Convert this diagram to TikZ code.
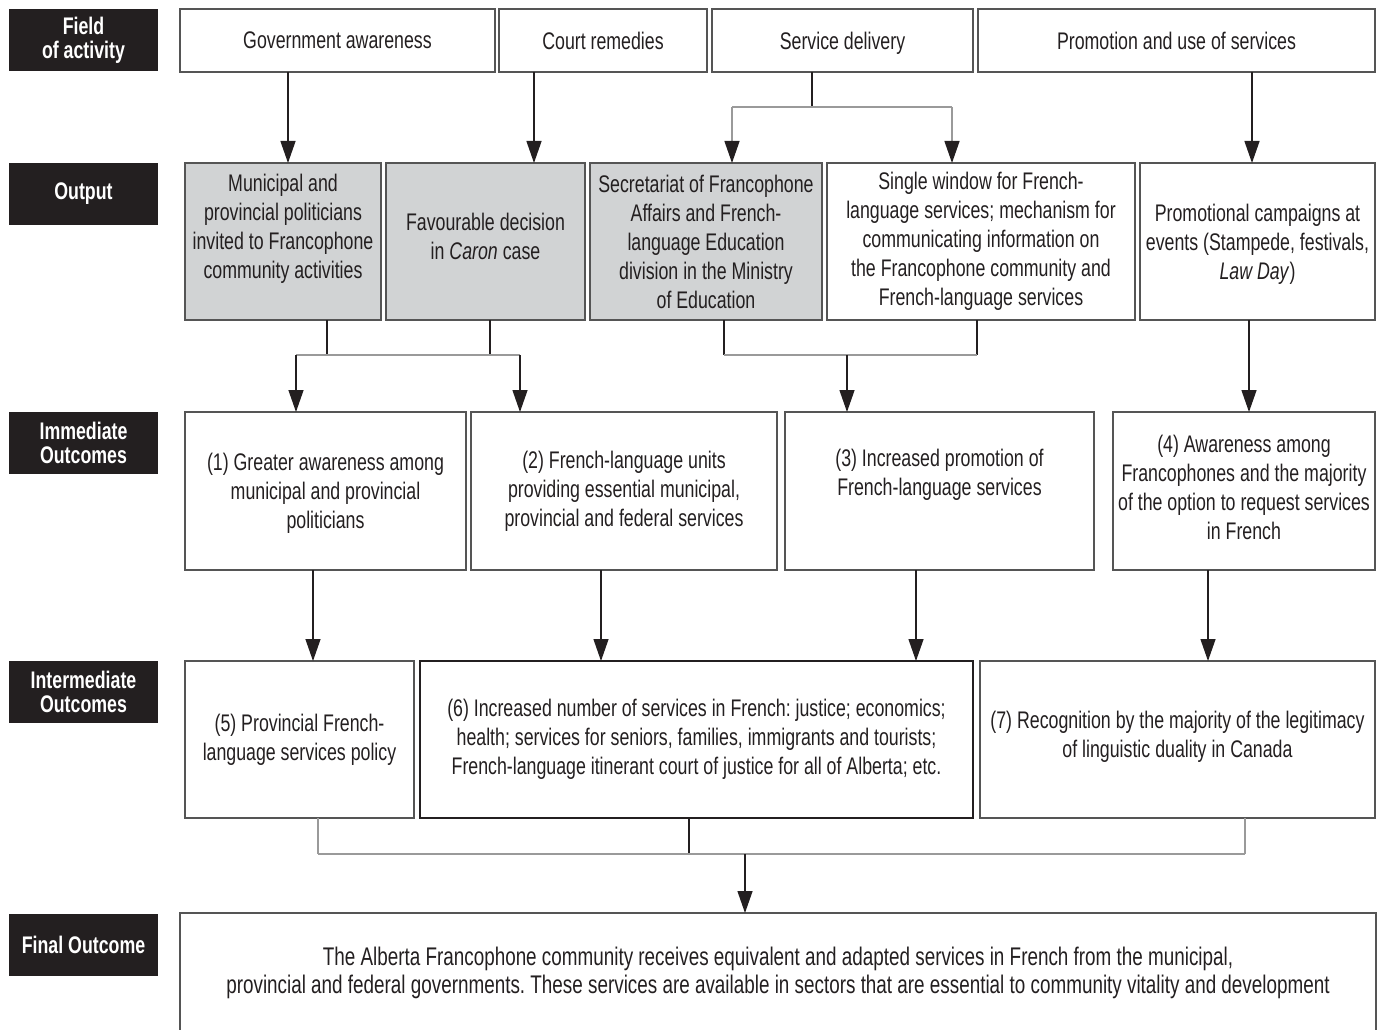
\documentclass[tikz,border=0pt]{standalone}
\usepackage{fontspec}
\setmainfont{Liberation Sans}[FakeStretch=0.74]
\usetikzlibrary{arrows.meta}

\definecolor{inkblack}{HTML}{231F20}
\definecolor{boxgray}{HTML}{D1D3D4}
\definecolor{rulegray}{HTML}{555555}
\definecolor{branchgray}{HTML}{9A9A9A}

\frenchspacing

\begin{document}
\begin{tikzpicture}[x=1pt, y=-1pt,
  every node/.style={inner sep=0pt, outer sep=0pt, align=center, text=inkblack,
    font=\frenchspacing\fontsize{24}{29}\selectfont},
  level/.style={fill=inkblack, text=white, anchor=north west,
    minimum width=149pt, minimum height=62pt, font=\bfseries\fontsize{24}{24}\selectfont},
  cell/.style={draw=rulegray, line width=1.2pt, anchor=north west},
  shaded/.style={cell, fill=boxgray},
  heavy/.style={cell, draw=inkblack, line width=2pt},
  link/.style={draw=inkblack, line width=1.3pt},
  branch/.style={draw=branchgray, line width=1.1pt},
  arr/.style={link, -{Triangle[length=22pt, width=15pt, color=inkblack]}}]

  \clip (0,0) rectangle (1382,1030);

  % Levels
  \node[level] (lfield) at (9,9) {Field\\of activity};
  \node[level] (lout) at (9,163) {Output};
  \node[level] (limm) at (9,412) {Immediate\\Outcomes};
  \node[level] (lint) at (9,661) {Intermediate\\Outcomes};
  \node[level] (lfin) at (9,914) {Final Outcome};

  % Fields of activity
  \node[cell, minimum width=315pt, minimum height=63pt] (gov) at (180,9) {Government awareness};
  \node[cell, minimum width=208pt, minimum height=63pt] (court) at (499,9) {Court remedies};
  \node[cell, minimum width=261pt, minimum height=63pt, text depth=0pt] (serv) at (712,9) {Service delivery};
  \node[cell, minimum width=397pt, minimum height=63pt] (promo) at (978,9) {Promotion and use of services};

  % Outputs (text depth nudges the text block up or down)
  \node[shaded, minimum width=196pt, minimum height=157pt, text depth=31pt] (out1) at (185,163)
    {Municipal and\\provincial politicians\\invited to Francophone\\community activities};
  \node[shaded, minimum width=199pt, minimum height=157pt, text depth=10pt] (out2) at (386,163)
    {Favourable decision\\in \textit{Caron} case};
  \node[shaded, minimum width=232pt, minimum height=157pt] (out3) at (590,163)
    {Secretariat of Francophone\\Affairs and French-\\language Education\\division in the Ministry\\of Education};
  \node[cell, minimum width=308pt, minimum height=157pt] (out4) at (827,163)
    {Single window for French-\\language services; mechanism for\\communicating information on\\the Francophone community and\\French-language services};
  \node[cell, minimum width=235pt, minimum height=157pt, text depth=0pt] (out5) at (1140,163)
    {Promotional campaigns at\\events (Stampede, festivals,\\\textit{Law Day})};

  % Immediate outcomes
  \node[cell, minimum width=281pt, minimum height=158pt, text depth=0pt] (imm1) at (185,412)
    {(1) Greater awareness among\\municipal and provincial\\politicians};
  \node[cell, minimum width=306pt, minimum height=158pt] (imm2) at (471,412)
    {(2) French-language units\\providing essential municipal,\\provincial and federal services};
  \node[cell, minimum width=309pt, minimum height=158pt, text depth=37pt] (imm3) at (785,412)
    {(3) Increased promotion of\\French-language services};
  \node[cell, minimum width=262pt, minimum height=158pt, text depth=8pt] (imm4) at (1113,412)
    {(4) Awareness among\\Francophones and the majority\\of the option to request services\\in French};

  % Intermediate outcomes
  \node[cell, minimum width=229pt, minimum height=157pt] (int5) at (185,661)
    {(5) Provincial French-\\language services policy};
  \node[heavy, minimum width=553pt, minimum height=157pt] (int6) at (420,661)
    {(6) Increased number of services in French: justice; economics;\\health; services for seniors, families, immigrants and tourists;\\French-language itinerant court of justice for all of Alberta; etc.};
  \node[cell, minimum width=395pt, minimum height=157pt, text depth=11pt] (int7) at (980,661)
    {(7) Recognition by the majority of the legitimacy\\of linguistic duality in Canada};

  % Final outcome
  \node[cell, minimum width=1196pt, minimum height=120pt, font=\frenchspacing\fontsize{25.5}{28}\selectfont] (fin) at (180,913)
    {The Alberta Francophone community receives equivalent and adapted services in French from the municipal,\\provincial and federal governments. These services are available in sectors that are essential to community vitality and development};

  % Junctions
  \coordinate (sd) at (812,107);
  \coordinate (sdl) at (732,107);
  \coordinate (sdr) at (952,107);
  \coordinate (j1) at (327,355);
  \coordinate (j2) at (490,355);
  \coordinate (ol) at (296,355);
  \coordinate (or) at (520,355);
  \coordinate (j3) at (724,355);
  \coordinate (j4) at (977,355);
  \coordinate (m2) at (847,355);
  \coordinate (k5) at (318,854);
  \coordinate (k6) at (689,854);
  \coordinate (k7) at (1245,854);
  \coordinate (kf) at (745,854);

  % Field -> output
  \draw[arr] ([xshift=-49.5pt]gov.south) -- ([xshift=5pt]out1.north);
  \draw[arr] ([xshift=-69pt]court.south) -- ([xshift=48.5pt]out2.north);
  \draw[link] (serv.south -| sd) -- (sd);
  \draw[branch] (sdl) -- (sdr);
  \draw[branch, arr, draw=branchgray] (sdl) -- (out3.north -| sdl);
  \draw[branch, arr, draw=branchgray] (sdr) -- (out4.north -| sdr);
  \draw[arr] ([xshift=75.5pt]promo.south) -- ([xshift=-5.5pt]out5.north);

  % Output -> immediate
  \draw[link] (out1.south -| j1) -- (j1);
  \draw[link] (out2.south -| j2) -- (j2);
  \draw[branch] (ol) -- (or);
  \draw[arr] (ol) -- (imm1.north -| ol);
  \draw[arr] (or) -- (imm2.north -| or);
  \draw[link] (out3.south -| j3) -- (j3);
  \draw[link] (out4.south -| j4) -- (j4);
  \draw[branch] (j3) -- (j4);
  \draw[arr] (m2) -- (imm3.north -| m2);
  \draw[arr] ([xshift=-8.5pt]out5.south) -- ([xshift=5pt]imm4.north);

  % Immediate -> intermediate
  \draw[arr] ([xshift=-12.5pt]imm1.south) -- ([xshift=13.5pt]int5.north);
  \draw[arr] ([xshift=-23pt]imm2.south) -- ([xshift=-95.5pt]int6.north);
  \draw[arr] ([xshift=-23.5pt]imm3.south) -- ([xshift=219.5pt]int6.north);
  \draw[arr] ([xshift=-36pt]imm4.south) -- ([xshift=30.5pt]int7.north);

  % Intermediate -> final
  \draw[branch] (int5.south -| k5) -- (k5);
  \draw[link] (int6.south -| k6) -- (k6);
  \draw[branch] (int7.south -| k7) -- (k7);
  \draw[branch] (k5) -- (k7);
  \draw[arr] (kf) -- (fin.north -| kf);

\end{tikzpicture}
\end{document}
